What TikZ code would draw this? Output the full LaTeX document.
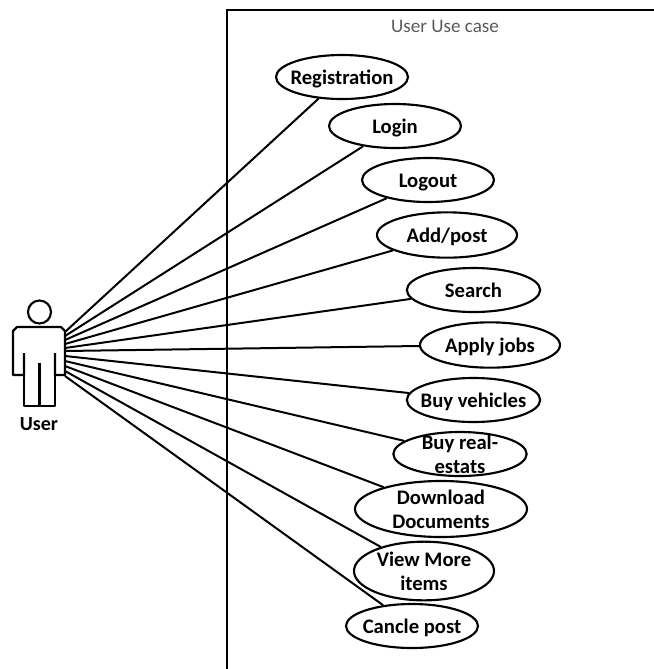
\documentclass[tikz,border=0pt]{standalone}
\usepackage{fontspec}
\setmainfont{Carlito}
\usetikzlibrary{shapes.geometric}
\definecolor{titlegray}{RGB}{90,90,90}
\newcommand{\uctext}[1]{\smash{\makebox[0pt]{\raisebox{-0.36em}{\begin{tabular}{@{}c@{}}#1\end{tabular}}}}}
\tikzset{
  usecase/.style={draw, ellipse, line width=1.6pt, fill=white, inner sep=0pt, font=\fontsize{15.5}{18}\selectfont\bfseries},
  assoc/.style={line width=1.5pt},
  actorline/.style={line width=1.6pt, line join=round}
}
\begin{document}
\begin{tikzpicture}[x=0.75pt,y=-0.75pt]
\useasboundingbox (0,0) rectangle (654,669);
% system frame
\draw[line width=1.8pt] (227,669) -- (227,10) -- (654,10);
\node[text=titlegray, font=\fontsize{14.3}{16}\selectfont] (title) at (445,26) {User Use case};
% actor
\draw[actorline] (39.5,312) circle (11.5);
\draw[actorline] (24,353) -- (24,375) -- (13,375) -- (13,331) -- (17,327) -- (61,327) -- (65,331) -- (65,375) -- (55,375) -- (55,353);
\draw[actorline] (24,375) -- (24,406) -- (55,406) -- (55,375);
\draw[actorline] (39.5,363) -- (39.5,406);
\node[font=\fontsize{15}{16}\selectfont\bfseries] (user) at (39,424) {User};
\coordinate (u1) at (65,332);
\coordinate (u2) at (65,336);
\coordinate (u3) at (65,340);
\coordinate (u4) at (65,344);
\coordinate (u5) at (65,348);
\coordinate (u6) at (65,351);
\coordinate (u7) at (65,356);
\coordinate (u8) at (65,361);
\coordinate (u9) at (65,366);
\coordinate (u10) at (65,371);
\coordinate (u11) at (65,376);
% use cases
\node[usecase, minimum width=99pt, minimum height=33pt] (registration) at (342,77) {\uctext{Registration}};
\node[usecase, minimum width=99pt, minimum height=33pt] (login) at (395,126) {\uctext{Login}};
\node[usecase, minimum width=99pt, minimum height=33pt] (logout) at (428,180) {\uctext{Logout}};
\node[usecase, minimum width=105pt, minimum height=34pt] (addpost) at (447,235) {\uctext{Add/post}};
\node[usecase, minimum width=100pt, minimum height=33pt] (search) at (473.5,290) {\uctext{Search}};
\node[usecase, minimum width=105pt, minimum height=34pt] (applyjobs) at (490,345) {\uctext{Apply jobs}};
\node[usecase, minimum width=100pt, minimum height=33pt] (vehicles) at (473.5,400) {\uctext{Buy vehicles}};
\node[usecase, minimum width=100pt, minimum height=33pt] (realestats) at (460,454) {\uctext{Buy real-\\estats}};
\node[usecase, minimum width=129pt, minimum height=42pt] (download) at (441,509) {\uctext{Download\\Documents}};
\node[usecase, minimum width=105pt, minimum height=44pt] (viewmore) at (424,571) {\uctext{View More\\items}};
\node[usecase, minimum width=99pt, minimum height=33pt] (canclepost) at (412,626) {\uctext{Cancle post}};
% associations
\draw[assoc] (u1) -- (registration);
\draw[assoc] (u2) -- (login);
\draw[assoc] (u3) -- (logout);
\draw[assoc] (u4) -- (addpost);
\draw[assoc] (u5) -- (search);
\draw[assoc] (u6) -- (applyjobs);
\draw[assoc] (u7) -- (vehicles);
\draw[assoc] (u8) -- (realestats);
\draw[assoc] (u9) -- (download);
\draw[assoc] (u10) -- (viewmore);
\draw[assoc] (u11) -- (canclepost);
\end{tikzpicture}
\end{document}
